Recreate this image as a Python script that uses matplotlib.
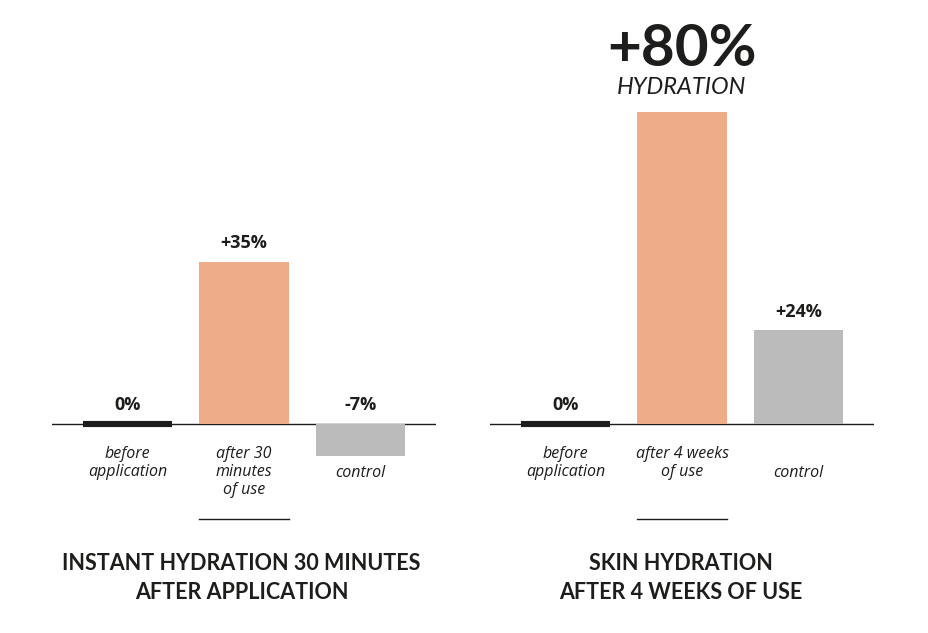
import matplotlib.pyplot as plt

# data
left_cats = ['before\napplication', 'after 30\nminutes\nof use', 'control']
left_vals = [0, 35, -7]
left_labels = ['0%', '+35%', '-7%']
left_title = 'INSTANT HYDRATION 30 MINUTES\nAFTER APPLICATION'

right_cats = ['before\napplication', 'after 4 weeks\nof use', 'control']
right_vals = [0, 80, 24]
right_labels = ['0%', '+80%', '+24%']
right_title = 'SKIN HYDRATION\nAFTER 4 WEEKS OF USE'

dark = '#1d1d1b'
colors = [dark, '#eeac88', '#bbbbbb']

W, H = 929, 633
fig = plt.figure(figsize=(W / 100, H / 100), dpi=100)
fig.patch.set_facecolor('white')

base_px = H - 424  # baseline, pixels from the bottom
bw = 0.77


def panel(x0, x1, scale, cats, vals, labels, title, title_x, big=False):
    ax = fig.add_axes([x0 / W, 0, (x1 - x0) / W, 1])
    ax.set_xlim(-0.65, 2.65)
    ax.set_ylim(-base_px / scale, (H - base_px) / scale)
    ax.axis('off')
    ax.axhline(0, color=dark, lw=1.0, zorder=1)

    for i, v in enumerate(vals):
        if v == 0:
            ax.plot([i - bw / 2, i + bw / 2], [0, 0], color=colors[i], lw=4.4,
                    solid_capstyle='butt', zorder=3)
        else:
            ax.bar(i, v, width=bw, color=colors[i], zorder=2)

        if big and i == 1:
            ax.annotate(labels[i], (i, v), xytext=(0, 45), textcoords='offset points',
                        ha='center', va='center', fontsize=42, fontweight='bold',
                        family='Lato', color=dark)
            ax.annotate('HYDRATION', (i, v), xytext=(0, 18), textcoords='offset points',
                        ha='center', va='center', fontsize=17, style='italic',
                        family='Lato', color=dark)
        else:
            ax.annotate(labels[i], (i, max(v, 0)), xytext=(0, 13.5),
                        textcoords='offset points', ha='center', va='center',
                        fontsize=13, fontweight='bold', family='Open Sans', color=dark)

        n = cats[i].count('\n')
        off = -15.5 if n > 0 else -29.5
        ax.annotate(cats[i], (i, 0), xytext=(0, off), textcoords='offset points',
                    ha='center', va='top', fontsize=11.5, style='italic',
                    family='Open Sans', color=dark, linespacing=1.2)

    # short rule under the middle category
    ul = -(519 - 424) / scale
    ax.plot([1 - bw / 2, 1 + bw / 2], [ul, ul], color=dark, lw=1.0)

    fig.text(title_x / W, 1 - 578 / H, title, ha='center', va='center',
             fontsize=15.5, fontweight='bold', family='Lato', color=dark,
             linespacing=1.45)


panel(52, 436, 162 / 35, left_cats, left_vals, left_labels, left_title, 241.5)
panel(490, 874, 312 / 80, right_cats, right_vals, right_labels, right_title, 681, big=True)

fig.savefig('out.png', dpi=100)
